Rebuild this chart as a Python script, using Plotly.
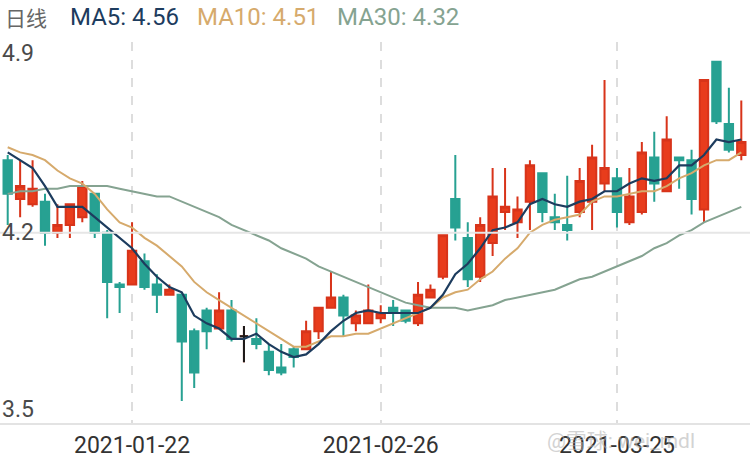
import plotly.graph_objects as go

dates = ["2021-01-08","2021-01-11","2021-01-12","2021-01-13","2021-01-14","2021-01-15",
         "2021-01-18","2021-01-19","2021-01-20","2021-01-21","2021-01-22","2021-01-25",
         "2021-01-26","2021-01-27","2021-01-28","2021-01-29","2021-02-01","2021-02-02",
         "2021-02-03","2021-02-04","2021-02-05","2021-02-08","2021-02-09","2021-02-10",
         "2021-02-18","2021-02-19","2021-02-22","2021-02-23","2021-02-24","2021-02-25",
         "2021-02-26","2021-03-01","2021-03-02","2021-03-03","2021-03-04","2021-03-05",
         "2021-03-08","2021-03-09","2021-03-10","2021-03-11","2021-03-12","2021-03-15",
         "2021-03-16","2021-03-17","2021-03-18","2021-03-19","2021-03-22","2021-03-23",
         "2021-03-24","2021-03-25","2021-03-26","2021-03-29","2021-03-30","2021-03-31",
         "2021-04-01","2021-04-02","2021-04-06","2021-04-07","2021-04-08","2021-04-09"]

open_ = [4.48,4.33,4.31,4.32,4.20,4.23,4.26,4.35,4.20,4.00,
         4.00,4.09,4.00,3.96,3.96,3.82,3.90,3.83,3.90,3.80,
         3.79,3.74,3.68,3.75,3.75,3.82,3.91,3.95,3.85,3.85,
         3.87,3.91,3.90,3.85,3.95,4.03,4.33,4.18,4.03,4.16,
         4.28,4.24,4.32,4.43,4.26,4.23,4.28,4.32,4.39,4.41,
         4.24,4.28,4.49,4.36,4.49,4.48,4.29,4.86,4.62,4.50]
close = [4.35,4.38,4.37,4.20,4.23,4.31,4.38,4.20,4.01,3.99,
         4.13,3.99,3.96,3.98,3.78,3.66,3.82,3.90,3.79,3.80,
         3.77,3.67,3.66,3.72,3.82,3.91,3.95,3.88,3.88,3.90,
         3.89,3.89,3.86,3.96,3.98,4.19,4.22,4.02,4.23,4.34,
         4.30,4.29,4.46,4.28,4.24,4.21,4.40,4.49,4.45,4.28,
         4.34,4.51,4.39,4.56,4.48,4.33,4.79,4.63,4.52,4.55]
high = [4.50,4.48,4.48,4.35,4.31,4.31,4.40,4.35,4.21,4.01,
        4.24,4.12,4.04,4.00,3.97,3.83,3.91,3.97,3.94,3.84,
        3.87,3.77,3.77,3.76,3.86,3.91,4.05,3.96,3.90,4.00,
        3.92,3.94,3.90,4.01,4.00,4.19,4.50,4.24,4.26,4.45,
        4.45,4.34,4.48,4.43,4.35,4.42,4.45,4.54,4.79,4.45,
        4.45,4.55,4.59,4.65,4.49,4.52,4.79,4.86,4.76,4.71]
low = [4.23,4.26,4.30,4.15,4.18,4.18,4.24,4.18,3.87,3.89,
       4.00,3.98,3.89,3.96,3.55,3.60,3.75,3.83,3.78,3.70,
       3.75,3.65,3.65,3.68,3.75,3.79,3.91,3.80,3.82,3.85,
       3.85,3.84,3.85,3.84,3.95,4.02,4.17,3.99,4.01,4.11,
       4.21,4.18,4.21,4.24,4.21,4.17,4.26,4.21,4.36,4.22,
       4.23,4.27,4.32,4.36,4.37,4.27,4.24,4.62,4.51,4.48]

ma5 = [4.51,4.48,4.45,4.38,4.30,4.30,4.30,4.26,4.22,4.18,
       4.14,4.08,4.03,3.99,3.97,3.88,3.85,3.83,3.79,3.79,
       3.81,3.77,3.74,3.72,3.73,3.77,3.82,3.86,3.89,3.90,
       3.89,3.89,3.89,3.89,3.91,3.96,4.04,4.08,4.14,4.21,
       4.22,4.24,4.31,4.33,4.31,4.30,4.32,4.33,4.36,4.36,
       4.39,4.41,4.40,4.41,4.46,4.46,4.50,4.56,4.55,4.56]
ma10 = [4.53,4.51,4.50,4.48,4.44,4.41,4.39,4.35,4.29,4.24,
        4.22,4.18,4.15,4.11,4.07,4.01,3.97,3.94,3.91,3.88,
        3.85,3.82,3.79,3.76,3.76,3.78,3.80,3.80,3.81,3.81,
        3.83,3.85,3.87,3.89,3.91,3.95,3.97,3.98,4.02,4.05,
        4.10,4.14,4.20,4.23,4.25,4.26,4.27,4.32,4.34,4.34,
        4.35,4.36,4.36,4.38,4.41,4.43,4.46,4.48,4.48,4.51]
ma30 = [4.35,4.36,4.36,4.37,4.37,4.38,4.38,4.38,4.38,4.37,
        4.36,4.35,4.34,4.34,4.32,4.30,4.28,4.26,4.23,4.21,
        4.19,4.17,4.14,4.12,4.10,4.07,4.05,4.03,4.01,3.99,
        3.97,3.95,3.93,3.92,3.91,3.91,3.91,3.90,3.91,3.92,
        3.94,3.95,3.96,3.97,3.98,4.00,4.02,4.03,4.05,4.07,
        4.09,4.11,4.14,4.16,4.19,4.21,4.24,4.26,4.28,4.30]

tick_dates = ["2021-01-22", "2021-02-26", "2021-03-25"]
y_labels = [4.9, 4.2, 3.5]
header = [("日线", "#666666"), ("MA5: 4.56", "#1d3c5e"),
          ("MA10: 4.51", "#d6aa6c"), ("MA30: 4.32", "#85a391")]

UP = "#e83c1c"
DOWN = "#27a192"
MA_COLORS = ["#1d3c5e", "#d6aa6c", "#85a391"]

doji = [i for i in range(len(dates)) if open_[i] == close[i]]

fig = go.Figure()
fig.add_trace(go.Candlestick(
    x=dates, open=open_, high=high, low=low, close=close,
    increasing=dict(line=dict(color="#d8341a", width=2), fillcolor=UP),
    decreasing=dict(line=dict(color=DOWN, width=2), fillcolor=DOWN),
    whiskerwidth=0, showlegend=False, hoverinfo="skip"))
fig.add_trace(go.Candlestick(
    x=[dates[i] for i in doji], open=[open_[i] for i in doji],
    high=[high[i] for i in doji], low=[low[i] for i in doji],
    close=[close[i] for i in doji],
    increasing=dict(line=dict(color="#1a1a1a", width=2), fillcolor="#1a1a1a"),
    decreasing=dict(line=dict(color="#1a1a1a", width=2), fillcolor="#1a1a1a"),
    whiskerwidth=0, showlegend=False, hoverinfo="skip"))

for series, col, w in [(ma30, MA_COLORS[2], 2), (ma10, MA_COLORS[1], 2), (ma5, MA_COLORS[0], 2.2)]:
    fig.add_trace(go.Scatter(x=dates, y=series, mode="lines",
                             line=dict(color=col, width=w), showlegend=False,
                             hoverinfo="skip"))

annotations = []
for v in y_labels:
    shift = {4.9: -2, 4.2: 0, 3.5: 5}[v]
    annotations.append(dict(x=0, xref="paper", y=v, yref="y", text=str(v),
                            xanchor="left", yanchor="middle", yshift=shift,
                            showarrow=False,
                            font=dict(family="Roboto", size=23, color="#4a4a4a")))

hx = [3, 68, 195, 335]
for (txt, col), px in zip(header, hx):
    fam = "Noto Sans CJK SC" if txt == "日线" else "Roboto"
    size = 21 if txt == "日线" else 24
    annotations.append(dict(x=px / 750, xref="paper", y=1 + (42 - 17.5) / 381,
                            yref="paper", text=txt, xanchor="left", yanchor="middle",
                            showarrow=False, font=dict(family=fam, size=size, color=col)))

annotations.append(dict(x=545 / 750, xref="paper", y=-(441 - 423) / 381, yref="paper",
                        text="@雪球: wei_mdl", xanchor="left", yanchor="middle",
                        showarrow=False, opacity=0.55,
                        font=dict(family="Roboto, Noto Sans CJK SC", size=21, color="#b0b0b0")))

fig.update_layout(
    width=750, height=462,
    margin=dict(l=0, r=0, t=42, b=39),
    paper_bgcolor="white", plot_bgcolor="white",
    showlegend=False,
    boxmode="overlay", boxgap=0.25, boxgroupgap=0.1,
    annotations=annotations,
    shapes=[dict(type="line", xref="paper", x0=0, x1=1, yref="y", y0=4.2, y1=4.2,
                 line=dict(color="#e6e6e6", width=2), layer="above")],
    xaxis=dict(type="category", categoryorder="array", categoryarray=dates,
               range=[-0.62, 59.7], rangeslider=dict(visible=False),
               tickmode="array", tickvals=tick_dates, ticktext=tick_dates,
               showgrid=True, gridcolor="#dddddd", gridwidth=2, griddash="dash",
               showline=True, linecolor="#e3e3e3", linewidth=2, ticks="",
               tickfont=dict(family="Roboto", size=23, color="#333333"),
               zeroline=False, fixedrange=True),
    yaxis=dict(range=[3.4653, 4.9363], showgrid=False, showticklabels=False,
               zeroline=False, showline=False, fixedrange=True),
)

fig.write_html("out.html")
